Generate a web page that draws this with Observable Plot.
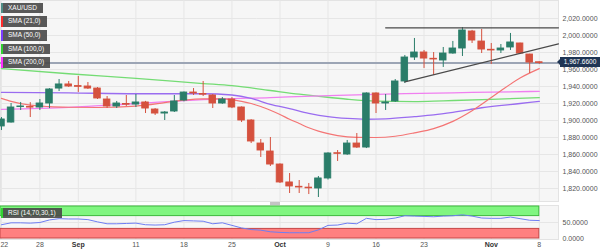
<!DOCTYPE html>
<html><head><meta charset="utf-8">
<script src="https://cdn.jsdelivr.net/npm/d3@7"></script>
<script src="https://cdn.jsdelivr.net/npm/@observablehq/plot@0.6"></script>
<style>
body{margin:0;background:#fff;font-family:Arial,"Liberation Sans",sans-serif;}
#wrap{position:relative;width:600px;height:252px;overflow:hidden}
#wrap svg{display:block}
.tag{position:absolute;left:1px;height:10.5px;line-height:10.5px;font-size:6.5px;color:#fff;background:rgba(72,72,72,.9);padding:0 6px 0 5px;border-left:2px solid;box-sizing:border-box;white-space:nowrap}
.pbox{position:absolute;left:560px;width:40px;height:10px;line-height:10px;font-size:6.5px;color:#fff;background:#1f3554;text-align:center}
.pbox:before{content:"";position:absolute;left:-3px;top:2px;border-style:solid;border-width:3px 3px 3px 0;border-color:transparent #1f3554 transparent transparent}
</style></head><body><div id="wrap"><div id="main"></div><div id="rsi"></div></div>
<script>
// ---------- data ----------
const dates = ["2023-08-22","2023-08-23","2023-08-24","2023-08-25","2023-08-28","2023-08-29","2023-08-30","2023-08-31",
"2023-09-01","2023-09-04","2023-09-05","2023-09-06","2023-09-07","2023-09-08","2023-09-11","2023-09-12","2023-09-13","2023-09-14","2023-09-15",
"2023-09-18","2023-09-19","2023-09-20","2023-09-21","2023-09-22","2023-09-25","2023-09-26","2023-09-27","2023-09-28","2023-09-29",
"2023-10-02","2023-10-03","2023-10-04","2023-10-05","2023-10-06","2023-10-09","2023-10-10","2023-10-11","2023-10-12","2023-10-13",
"2023-10-16","2023-10-17","2023-10-18","2023-10-19","2023-10-20","2023-10-23","2023-10-24","2023-10-25","2023-10-26","2023-10-27",
"2023-10-30","2023-10-31","2023-11-01","2023-11-02","2023-11-03","2023-11-06","2023-11-07","2023-11-08"];
const opens = [1893,1897.6,1915.8,1916,1915.3,1920,1937.6,1942.4,1940.5,1940,1937.6,1924.7,1916.5,1919.4,1918.8,1921.2,1912.9,1908.2,1910.6,1923.5,1932.9,1931.2,1929.4,1920,1924.7,1915.3,1900,1872.9,1863.5,1848.2,1827.1,1822,1821,1820,1831.8,1861.5,1860,1872.9,1868.2,1931.8,1920,1922.4,1945.9,1974.1,1980,1972.6,1970.6,1978.8,1984.7,2004.7,1992.9,1983.2,1982.4,1985.9,1990.6,1977.6,1968.5];
const highs = [1903.5,1920,1921.2,1921,1924.7,1937.5,1948.2,1945.9,1951.8,1944.7,1938.8,1928.2,1922.4,1929.4,1930.6,1922.5,1914,1910.5,1929.4,1933.5,1937.6,1945.9,1930.5,1927,1927,1916,1901,1877.6,1880,1849,1837.6,1829.4,1825.9,1834.1,1862,1864.7,1876.5,1884.7,1932.5,1932.5,1930.6,1948.2,1976.5,1996.5,1982.4,1980,1985.9,1993,2009.4,2006,2007.1,1990.6,1989.4,2002.4,1991,1978,1969];
const lows = [1888.2,1897,1911.8,1903.5,1911.8,1914,1934.1,1938.8,1933,1936.5,1924.7,1914.1,1914.1,1916.5,1915.3,1908.2,1905.9,1900,1909.4,1922,1929.4,1928.2,1914.1,1919,1914,1897.6,1872.9,1856.5,1845.9,1825.9,1814.1,1814.1,1812.9,1809.4,1830,1851.8,1859,1867.1,1867,1908.2,1911.8,1921.2,1943.5,1970.6,1961.2,1952.9,1962.4,1978,1975.3,1990.6,1978.8,1965.9,1978.8,1982.4,1977.6,1955.3,1966];
const closes = [1901.2,1915.3,1916.5,1915.2,1920,1936.5,1942.4,1940,1939.6,1937.6,1925.9,1916.5,1920,1918.6,1921.2,1914.1,1908.2,1909.4,1922.4,1932.9,1931.8,1930.4,1920,1924.7,1915.3,1900,1875.3,1864.7,1848.2,1827.1,1822.4,1821.2,1820.2,1831.8,1861.2,1860.8,1872.9,1868.2,1931.8,1920,1921.2,1945.9,1974.1,1980,1972.9,1971.8,1978.8,1984.7,2005.9,1994.1,1983.5,1982.4,1984.7,1991.8,1978.8,1968.2,1967.66];
const rsi = [43,49,49,48,50,58,62,61,61,59,52,46,46,47,48,43,42,43,51,56,55,54,46,49,41,33,28,26,21,19,18,18,18,27,41,42,48,46,63,59,60,64,71,70,69,68,70,71,74,70,64,63,63,67,62,57,56];

const sma21Dates = ["2023-08-22","2023-08-23","2023-08-25","2023-08-29","2023-08-31","2023-09-05","2023-09-11","2023-09-14","2023-09-18","2023-09-20","2023-09-22","2023-09-25","2023-09-26","2023-09-27","2023-09-28","2023-09-29","2023-10-02","2023-10-03","2023-10-04","2023-10-05","2023-10-06","2023-10-09","2023-10-10","2023-10-12","2023-10-16","2023-10-18","2023-10-20","2023-10-24","2023-10-26","2023-10-30","2023-11-01","2023-11-02","2023-11-06","2023-11-08"];
const sma21 = [1926,1922.5,1918,1916.3,1915.6,1915.3,1917,1921,1924,1925.5,1925.5,1924.5,1922.5,1920,1916.5,1912,1907,1901.5,1896.5,1891.5,1887.5,1884.5,1882.3,1880.2,1880,1881.5,1885.5,1890.5,1899,1911.5,1927,1935,1950,1961];
const sma50Dates = ["2023-08-22","2023-08-31","2023-09-11","2023-09-20","2023-09-25","2023-09-27","2023-09-29","2023-10-03","2023-10-05","2023-10-09","2023-10-11","2023-10-13","2023-10-17","2023-10-20","2023-10-24","2023-10-26","2023-10-31","2023-11-06","2023-11-08"];
const sma50 = [1933,1932.5,1931.5,1931.5,1930,1926,1919,1914,1908.5,1904.5,1902.4,1901.5,1902,1904.5,1906.5,1909.5,1915,1920,1922.5];
const sma100Dates = ["2023-08-22","2023-08-31","2023-09-11","2023-09-20","2023-09-25","2023-09-29","2023-10-04","2023-10-06","2023-10-11","2023-10-16","2023-10-20","2023-10-25","2023-11-01","2023-11-08"];
const sma100 = [1961,1955,1949.5,1943.5,1941,1935.3,1931,1928.5,1925,1922.8,1922.3,1923.2,1924.8,1926.9];
const sma200Dates = ["2023-08-22","2023-08-31","2023-09-11","2023-09-20","2023-09-29","2023-10-10","2023-10-19","2023-10-30","2023-11-08"];
const sma200 = [1913,1915.5,1920,1924.5,1927,1929.5,1931.5,1933,1934.3];

const supportDates = ["2023-10-19","2023-11-10"];
const supportVals = [1945.5,1990.2];
const resistDates = ["2023-10-17","2023-11-10"];
const resistVals = [2009,2009];
const lastPrice = 1967.66;

const yTicks = [1820,1840,1860,1880,1900,1920,1940,1960,1980,2000,2020];
const rsiTicks = [0,50];
const tickDates = ["2023-08-22","2023-08-28","2023-09-01","2023-09-11","2023-09-18","2023-09-25","2023-10-02","2023-10-09","2023-10-16","2023-10-23","2023-11-01","2023-11-08"];
const tickLabels = ["22","28","Sep","11","18","25","Oct","9","16","23","Nov","8"];
const legendNames = ["XAU/USD","SMA (21,0)","SMA (50,0)","SMA (100,0)","SMA (200,0)"];

// ---------- helpers ----------
const t0 = new Date(dates[0] + "T00:00:00Z");
function tIdx(s){
  const d = new Date(s + "T00:00:00Z"); let n = 0;
  for (let t = new Date(t0); t < d; t.setUTCDate(t.getUTCDate() + 1)) { const w = t.getUTCDay(); if (w !== 0 && w !== 6) n++; }
  return n + 1;
}
const UP = "#2a7d69", DOWN = "#d5513e";
const candles = dates.map((d, k) => ({i: tIdx(d), open: opens[k], high: highs[k], low: lows[k], close: closes[k]}));
const ups = candles.filter(d => d.close >= d.open), downs = candles.filter(d => d.close < d.open);
const series = (ds, vs) => ds.map((d, k) => ({x: tIdx(d), y: vs[k]}));
const xDom = [0.9, 59];
const tickIdx = tickDates.map(tIdx);
const font = "Arial, 'Liberation Sans', sans-serif";
const hw = 0.34;

function candleMarks(data, c){
  return [
    Plot.ruleX(data, {x: "i", y1: "low", y2: "high", stroke: c, strokeWidth: 1}),
    Plot.rect(data, {x1: d => d.i - hw, x2: d => d.i + hw, y1: "open", y2: "close", fill: c, stroke: c, strokeWidth: 0.9})
  ];
}

const main = Plot.plot({
  width: 600, height: 203, marginLeft: 0, marginRight: 42, marginTop: 0, marginBottom: 2,
  x: {domain: xDom, axis: null},
  y: {domain: [1820, 2020], range: [188, 18], axis: null},
  style: {fontFamily: font, background: "#fff", color: "#555", overflow: "hidden"},
  marks: [
    Plot.frame({fill: "#f6f6f6", stroke: "#e3e3e3"}),
    Plot.ruleY(yTicks, {stroke: "#e6e6e6"}),
    Plot.ruleX(tickIdx, {stroke: "#e6e6e6"}),
    Plot.line(series(sma100Dates, sma100), {x: "x", y: "y", stroke: "#74dc74", strokeWidth: 1.3, curve: "monotone-x"}),
    Plot.line(series(sma200Dates, sma200), {x: "x", y: "y", stroke: "#f07ff0", strokeWidth: 1.3, curve: "monotone-x"}),
    Plot.line(series(sma50Dates, sma50), {x: "x", y: "y", stroke: "#9a6cf0", strokeWidth: 1.3, curve: "monotone-x"}),
    Plot.line(series(sma21Dates, sma21), {x: "x", y: "y", stroke: "#f47575", strokeWidth: 1.2, curve: "monotone-x"}),
    Plot.ruleY([lastPrice], {stroke: "#9ca5b5", strokeWidth: 2}),
    ...candleMarks(ups, UP),
    ...candleMarks(downs, DOWN),
    Plot.line(series(resistDates, resistVals), {x: "x", y: "y", stroke: "#4a4a4a", strokeWidth: 1.2}),
    Plot.line(series(supportDates, supportVals), {x: "x", y: "y", stroke: "#4a4a4a", strokeWidth: 1.2}),
    Plot.axisY(yTicks, {anchor: "right", tickSize: 0, tickPadding: 4, textAnchor: "start", tickFormat: d3.format(",.4f"), fontSize: 7})
  ]
});
document.getElementById("main").appendChild(main);

const last = dates[dates.length - 1];
const bands = [{lo: 70, hi: 100, fill: "#80f680", stroke: "#3dba3d"}, {lo: 0, hi: 30, fill: "#ff8080", stroke: "#c54848"}];
const isMonth = s => isNaN(+s);
const xLabels = tickDates.map((d, k) => ({x: tIdx(d), t: tickLabels[k], first: k === 0}));
const rsiPlot = Plot.plot({
  width: 600, height: 49, marginLeft: 0, marginRight: 42, marginTop: 2, marginBottom: 13,
  x: {domain: xDom, axis: null},
  y: {domain: [0, 100], range: [35, 3], axis: null},
  style: {fontFamily: font, background: "#fff", color: "#555", overflow: "hidden"},
  marks: [
    Plot.frame({fill: "#f6f6f6", stroke: "#e3e3e3"}),
    Plot.ruleX(tickIdx, {stroke: "#e6e6e6"}),
    Plot.ruleY([50], {stroke: "#e6e6e6"}),
    ...bands.map(b => Plot.rect([b], {x1: () => xDom[0], x2: () => tIdx(last), y1: "lo", y2: "hi", fill: b.fill, stroke: b.stroke, strokeWidth: 1})),
    Plot.line(rsi.map((v, k) => ({x: tIdx(dates[k]), y: v})), {x: "x", y: "y", stroke: "#6f7ef2", strokeWidth: 1}),
    Plot.axisY(rsiTicks, {anchor: "right", tickSize: 0, tickPadding: 4, textAnchor: "start", tickFormat: d3.format(".4f"), fontSize: 7}),
    Plot.text(xLabels.filter(d => d.first), {x: "x", text: "t", frameAnchor: "bottom", dy: 7, dx: -1, textAnchor: "start", fontSize: 7, fill: "#555"}),
    Plot.text(xLabels.filter(d => !d.first && !isMonth(d.t)), {x: "x", text: "t", frameAnchor: "bottom", dy: 7, fontSize: 7, fill: "#555"}),
    Plot.text(xLabels.filter(d => isMonth(d.t)), {x: "x", text: "t", frameAnchor: "bottom", dy: 7, fontSize: 7, fill: "#333", fontWeight: "bold"})
  ]
});
document.getElementById("rsi").appendChild(rsiPlot);

// ---------- overlays (legend tags, price tag) ----------
const wrap = document.getElementById("wrap");
const stripe = ["#4f8e86", "#ff2a2a", "#7b3cff", "#2fd12f", "#ff2aff"];
legendNames.forEach((n, k) => {
  const el = document.createElement("div");
  el.className = "tag"; el.textContent = n;
  el.style.top = (2.8 + k * 13.6) + "px"; el.style.borderLeftColor = stripe[k];
  wrap.appendChild(el);
});
const rsiTag = document.createElement("div");
rsiTag.className = "tag"; rsiTag.textContent = "RSI (14,70,30,1)";
rsiTag.style.top = (203 + rsiPlot.scale("y").apply(100) + 1.5) + "px"; rsiTag.style.borderLeftColor = "#31d431";
wrap.appendChild(rsiTag);
const pb = document.createElement("div");
pb.className = "pbox"; pb.textContent = d3.format(",.4f")(lastPrice);
pb.style.top = (main.scale("y").apply(lastPrice) - 5) + "px";
wrap.appendChild(pb);
const handle = document.createElement("div");
Object.assign(handle.style, {position: "absolute", left: main.scale("x").apply(29.5) - 5 + "px", top: "202px", width: "10px", height: "2.5px", background: "#c4c4c4"});
wrap.appendChild(handle);
</script></body></html>
